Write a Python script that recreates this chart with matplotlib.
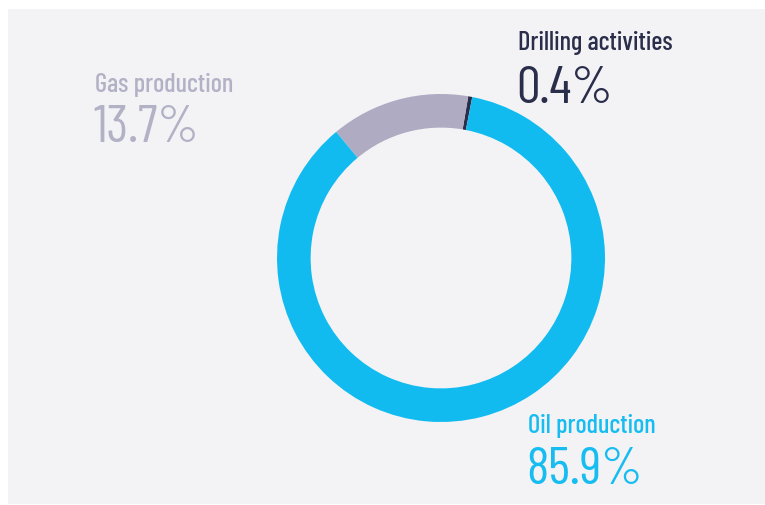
import matplotlib
matplotlib.use("Agg")
import matplotlib.pyplot as plt
from matplotlib.patches import Rectangle

# data
segments = ["Drilling activities", "Gas production", "Oil production"]
shares = [0.4, 13.7, 85.9]
colors = ["#2b2e4a", "#aeabc2", "#12bbef"]
text_colors = ["#2b2e4a", "#b3b1c6", "#17bdf0"]

W, H = 765, 506
fig = plt.figure(figsize=(W / 100, H / 100), dpi=100)
fig.patch.set_facecolor("white")

# light panel behind everything
fig.patches.append(Rectangle((8 / W, 1 / H), 1 - 8 / W, (505 - 10) / H,
                             transform=fig.transFigure, facecolor="#f3f3f6",
                             edgecolor="none", zorder=-5))

# donut, centre at (441, 259) px, outer radius 164 px
cx, cy, R = 441, 259, 164
ax = fig.add_axes([(cx - R) / W, (H - cy - R) / H, 2 * R / W, 2 * R / H])
ax.set_zorder(2)
ax.pie(shares, colors=colors, startangle=79, counterclock=True,
       radius=1.0, wedgeprops=dict(width=0.205, linewidth=0))
ax.set_xlim(-1, 1)
ax.set_ylim(-1, 1)
ax.set_aspect("equal")
ax.axis("off")

fam = ["Barlow Condensed", "DejaVu Sans"]

def label(x, y_lab, y_num, i):
    fig.text(x / W, 1 - y_lab / H, segments[i], color=text_colors[i],
             fontsize=19, family=fam, fontweight=500,
             va="baseline", ha="left", zorder=3)
    fig.text(x / W - 0.002, 1 - y_num / H, f"{shares[i]}%", color=text_colors[i],
             fontsize=38, family=fam, fontweight=400,
             va="baseline", ha="left", zorder=3)

label(518, 50, 103, 0)
label(95, 92, 142, 1)
label(528, 433, 484, 2)

fig.savefig("out.png", dpi=100)
